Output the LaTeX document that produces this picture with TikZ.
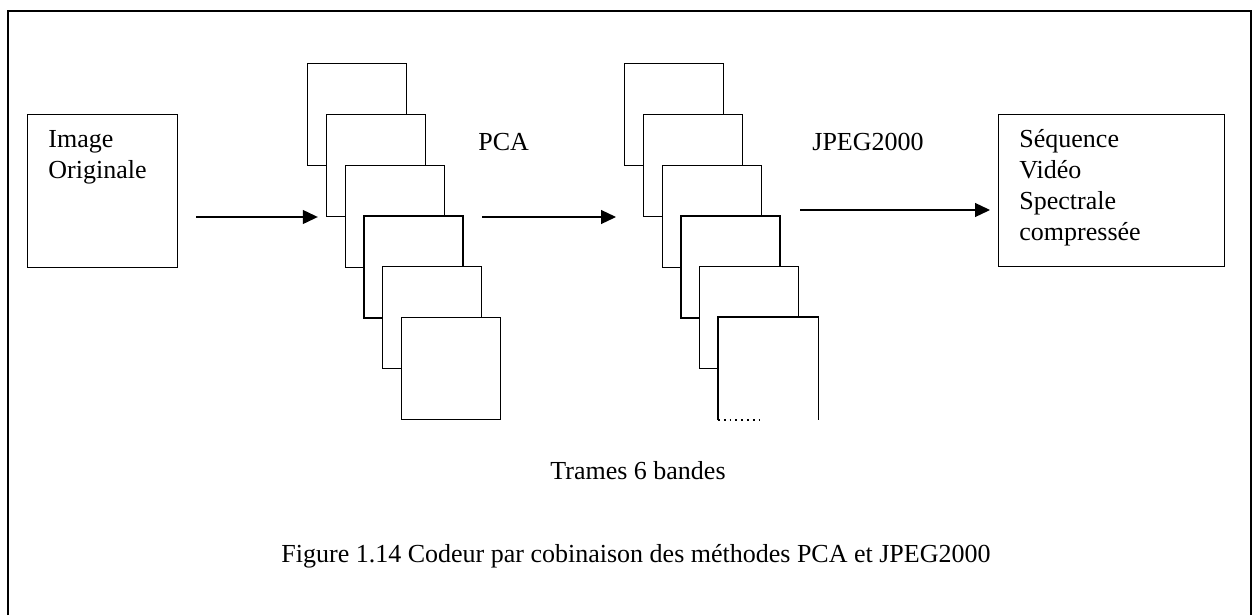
\documentclass[tikz,border=0pt]{standalone}
\usepackage{fontspec}
\setmainfont{Liberation Serif}
\usetikzlibrary{arrows.meta,calc}

\tikzset{
  frame/.style={draw,line width=0.6pt,fill=white,minimum width=49.5pt,minimum height=51pt,inner sep=0pt,anchor=north west},
  box/.style={draw,line width=0.6pt,inner sep=0pt,anchor=north west},
  lbl/.style={inner sep=0pt,font=\fontsize{13}{15.5}\selectfont},
  arr/.style={line width=0.6pt,-{Triangle[length=7.5pt,width=7pt]}}
}

\begin{document}
\begin{tikzpicture}[x=0.5pt,y=-0.5pt]
    \useasboundingbox (0,0) rectangle (1256,615);
    % cadre exterieur, ouvert en bas
    \draw[line width=1pt] (7.5,615) -- (7.5,11.5) -- (1251,11.5) -- (1251,615);

    \node[box,minimum width=75pt,minimum height=76.5pt] (orig) at (27,114) {};
    \node[lbl,anchor=base west,text width=70pt,align=left] at ($(orig.north west)+(21,34)$) {Image\\Originale};

    \node[box,minimum width=113pt,minimum height=76pt] (seq) at (998,114) {};
    \node[lbl,anchor=base west,text width=100pt,align=left] at ($(seq.north west)+(21,34)$) {Séquence\\Vidéo\\Spectrale\\compressée};

    % les deux piles de trames
    \foreach \i in {1,...,6}
      \node[frame] (a\i) at ({307+(\i-1)*18.8},{63+(\i-1)*50.8}) {};
    \foreach \i in {1,...,5}
      \node[frame] (b\i) at ({624+(\i-1)*18.8},{63+(\i-1)*50.8}) {};
    \node[frame,draw=none] (b6) at ({624+5*18.8},{63+5*50.8}) {};
    \draw[line width=0.6pt] (b6.south west) -- (b6.north west) -- (b6.north east) -- (b6.south east);
    \draw[line width=0.9pt,dotted] (b6.south west) -- ++(42,0);

    \draw[arr,shorten <=9pt,shorten >=4pt] (orig.east |- a2.south west) -- (a2.south west);
    \draw[arr,shorten >=13.4pt] (a5.east |- a2.south west) -- (b2.south west);
    \coordinate (j) at (800,210);
    \draw[arr,shorten >=4pt] (j) -- (j -| seq.west);

    \node[lbl,anchor=base west] (pca) at (478,150) {PCA};
    \node[lbl,anchor=base west] (jpeg) at (812,150) {JPEG2000};
    \node[lbl,anchor=base] (trames) at (638,479) {Trames 6 bandes};
    \node[lbl,anchor=base] (fig) at (636,562) {Figure 1.14 Codeur par cobinaison des méthodes PCA et JPEG2000};
\end{tikzpicture}
\end{document}
